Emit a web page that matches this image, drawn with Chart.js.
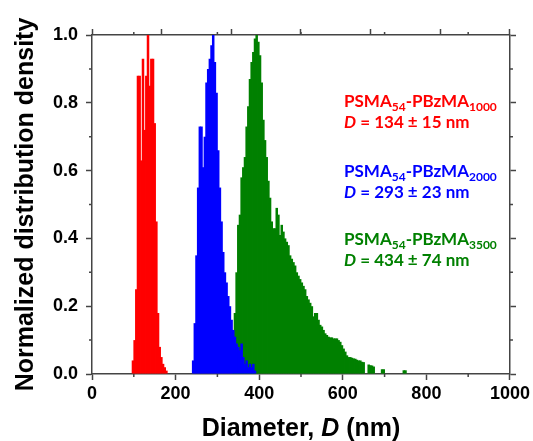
<!DOCTYPE html>
<html>
<head>
<meta charset="utf-8">
<script src="https://cdn.jsdelivr.net/npm/chart.js@4.4.1/dist/chart.umd.min.js"></script>
<style>
  body { margin: 0; background: #fff; }
  #wrap { width: 533px; height: 441px; }
</style>
</head>
<body>
<div id="wrap"><canvas id="chart"></canvas></div>
<script>
// bin centres (nm) and normalized densities
const redD = [98, 102, 106, 110, 114, 118, 122, 126, 130, 134, 138, 142, 146, 150, 154, 158, 162, 166, 170, 174, 178];
const redY = [0.04, 0.10, 0.25, 0.88, 0.88, 0.63, 0.93, 0.72, 0.88, 1.0, 0.85, 0.93, 0.93, 0.74, 0.45, 0.18, 0.08, 0.05, 0.03, 0.02, 0.01];

const blueD = [242, 246, 250, 254, 258, 262, 266, 270, 274, 278, 282, 286, 290, 294, 298, 302, 306, 310, 314, 318,
  322, 326, 330, 334, 338, 342, 346, 350, 354, 358, 362, 366, 370, 374, 378, 382, 386, 390];
const blueY = [0.04, 0.15, 0.35, 0.55, 0.73, 0.73, 0.61, 0.70, 0.86, 0.90, 0.93, 0.97, 1.0, 0.92, 0.83, 0.66, 0.55, 0.45, 0.36, 0.30,
  0.27, 0.23, 0.20, 0.16, 0.13, 0.11, 0.09, 0.08, 0.07, 0.09, 0.05, 0.03, 0.04, 0.02, 0.03, 0.02, 0.03, 0.01];

const greenD = [338, 342, 346, 350, 354, 358, 362, 366, 370, 374, 378, 382, 386, 390, 394, 398, 402, 406, 410, 414,
  418, 422, 426, 430, 434, 438, 442, 446, 450, 454, 458, 462, 466, 470, 474, 478, 482, 486, 490, 494,
  498, 502, 506, 510, 514, 518, 522, 526, 530, 534, 538, 542, 546, 550, 554, 558, 562, 566, 570, 574,
  578, 582, 586, 590, 594, 598, 602, 606, 610, 614, 618, 622, 626, 630, 634, 638, 642, 646, 650,
  662, 666, 670, 674, 694, 698, 746, 750];
const greenY = [0.10, 0.18, 0.30, 0.44, 0.47, 0.58, 0.61, 0.64, 0.73, 0.79, 0.87, 0.92, 0.95, 0.99, 1.0, 0.98, 0.94, 0.86, 0.75, 0.69,
  0.64, 0.57, 0.52, 0.45, 0.43, 0.43, 0.49, 0.47, 0.41, 0.44, 0.42, 0.40, 0.39, 0.38, 0.35, 0.34, 0.33, 0.32, 0.30, 0.29,
  0.28, 0.27, 0.26, 0.25, 0.23, 0.22, 0.21, 0.20, 0.17, 0.18, 0.18, 0.16, 0.145, 0.14, 0.13, 0.12, 0.115, 0.11, 0.108, 0.108,
  0.105, 0.105, 0.105, 0.10, 0.095, 0.085, 0.075, 0.066, 0.055, 0.05, 0.05, 0.048, 0.046, 0.045, 0.042, 0.04, 0.04, 0.036, 0.035,
  0.028, 0.026, 0.025, 0.022, 0.014, 0.014, 0.011, 0.011];

const xTicks = [0, 200, 400, 600, 800, 1000];
const yTicks = [0.0, 0.2, 0.4, 0.6, 0.8, 1.0];

const sampleNames = ["PSMA54-PBzMA1000", "PSMA54-PBzMA2000", "PSMA54-PBzMA3500"];
const blockSub = ["1000", "2000", "3500"];
const sizeLabels = ["134 ± 15 nm", "293 ± 23 nm", "434 ± 74 nm"];
const colors = ["#ff0000", "#0000ff", "#008000"];

const axisColor = "#444";
const tickFont = { family: "'Liberation Sans', Arial, sans-serif", size: 18, weight: "bold" };

function toPoints(xs, ys) {
  return xs.map((x, i) => ({ x: x, y: ys[i] }));
}

function drawRuns(ctx, x, y, runs) {
  runs.forEach((r) => {
    ctx.font = r.font;
    ctx.fillText(r.text, x, y + (r.dy || 0));
    x += ctx.measureText(r.text).width;
  });
  return x;
}

function runsWidth(ctx, runs) {
  let w = 0;
  runs.forEach((r) => {
    ctx.font = r.font;
    w += ctx.measureText(r.text).width;
  });
  return w;
}

const textPlugin = {
  id: "textPlugin",
  afterDraw(chart) {
    const ctx = chart.ctx;
    const area = chart.chartArea;
    const xs = chart.scales.x;
    const ys = chart.scales.y;
    ctx.save();

    // minor ticks
    ctx.strokeStyle = axisColor;
    ctx.lineWidth = 1.5;
    ctx.beginPath();
    for (let v = 100; v < 1000; v += 200) {
      const px = xs.getPixelForValue(v);
      ctx.moveTo(px, area.bottom);
      ctx.lineTo(px, area.bottom + 3);
      ctx.moveTo(px, area.top);
      ctx.lineTo(px, area.top - 3);
    }
    for (let v = 0.1; v < 1; v += 0.2) {
      const py = ys.getPixelForValue(v);
      ctx.moveTo(area.left, py);
      ctx.lineTo(area.left - 3, py);
      ctx.moveTo(area.right, py);
      ctx.lineTo(area.right + 3, py);
    }
    ctx.stroke();

    // x axis title
    ctx.fillStyle = "#000";
    ctx.textBaseline = "alphabetic";
    const fam = "'Liberation Sans', Arial, sans-serif";
    const titleRuns = [
      { text: "Diameter, ", font: "bold 25px " + fam },
      { text: "D", font: "italic bold 25px " + fam },
      { text: " (nm)", font: "bold 25px " + fam },
    ];
    const tw = runsWidth(ctx, titleRuns);
    drawRuns(ctx, (area.left + area.right) / 2 - tw / 2, 436, titleRuns);

    // sample annotations
    const lf = "Lato, 'Open Sans', sans-serif";
    const x0 = 344;
    const baselines = [107, 177, 245];
    sampleNames.forEach((name, i) => {
      ctx.fillStyle = colors[i];
      const y = baselines[i];
      drawRuns(ctx, x0, y, [
        { text: "PSMA", font: "bold 17px " + lf },
        { text: "54", font: "bold 12px " + lf, dy: 3.5 },
        { text: "-PBzMA", font: "bold 17px " + lf },
        { text: blockSub[i], font: "bold 12px " + lf, dy: 3.5 },
      ]);
      drawRuns(ctx, x0, y + 21, [
        { text: "D", font: "italic bold 17px " + lf },
        { text: " = " + sizeLabels[i], font: "bold 17px " + lf },
      ]);
    });
    ctx.restore();
  },
};

const ctx = document.getElementById("chart").getContext("2d");
const myChart = new Chart(ctx, {
  type: "bar",
  data: {
    datasets: [
      { label: sampleNames[0], data: toPoints(redD, redY), backgroundColor: colors[0] },
      { label: sampleNames[1], data: toPoints(blueD, blueY), backgroundColor: colors[1] },
      { label: sampleNames[2], data: toPoints(greenD, greenY), backgroundColor: colors[2] },
    ],
  },
  options: {
    responsive: true,
    maintainAspectRatio: false,
    animation: false,
    layout: { padding: 0 },
    datasets: {
      bar: {
        grouped: false,
        barPercentage: 1.5,
        categoryPercentage: 1,
        borderWidth: 0,
      },
    },
    plugins: {
      legend: { display: false },
      tooltip: { enabled: false },
    },
    scales: {
      x: {
        type: "linear",
        position: "bottom",
        min: 0,
        max: 1000,
        offset: false,
        afterFit: (s) => { s.height = 67; },
        afterBuildTicks: (s) => { s.ticks = xTicks.map((v) => ({ value: v })); },
        border: { display: true, color: axisColor, width: 1.5 },
        grid: { offset: false, drawOnChartArea: false, tickLength: 6, tickColor: axisColor, tickWidth: 1.5 },
        ticks: { font: tickFont, color: "#000", padding: 3, maxRotation: 0, autoSkip: false, callback: (v) => String(v) },
      },
      x2: {
        type: "linear",
        position: "top",
        min: 0,
        max: 1000,
        afterFit: (s) => { s.height = 35; },
        afterBuildTicks: (s) => { s.ticks = xTicks.map((v) => ({ value: v })); },
        border: { display: true, color: axisColor, width: 1.5 },
        grid: { drawOnChartArea: false, tickLength: 6, tickColor: axisColor, tickWidth: 1.5 },
        ticks: { display: false },
      },
      y: {
        type: "linear",
        position: "left",
        min: 0,
        max: 1,
        afterFit: (s) => { s.width = 92; },
        afterBuildTicks: (s) => { s.ticks = yTicks.map((v) => ({ value: v })); },
        border: { display: true, color: axisColor, width: 1.5 },
        grid: { drawOnChartArea: false, tickLength: 6, tickColor: axisColor, tickWidth: 1.5 },
        ticks: { font: tickFont, color: "#000", padding: 8, callback: (v) => v.toFixed(1) },
        title: {
          display: true,
          text: "Normalized distribution density",
          color: "#000",
          font: { family: "'Liberation Sans', Arial, sans-serif", size: 25, weight: "bold" },
          padding: { top: 11, bottom: 0 },
        },
      },
      y2: {
        type: "linear",
        position: "right",
        min: 0,
        max: 1,
        afterFit: (s) => { s.width = 21; },
        afterBuildTicks: (s) => { s.ticks = yTicks.map((v) => ({ value: v })); },
        border: { display: true, color: axisColor, width: 1.5 },
        grid: { drawOnChartArea: false, tickLength: 6, tickColor: axisColor, tickWidth: 1.5 },
        ticks: { display: false },
      },
    },
  },
  plugins: [textPlugin],
});
</script>
</body>
</html>
